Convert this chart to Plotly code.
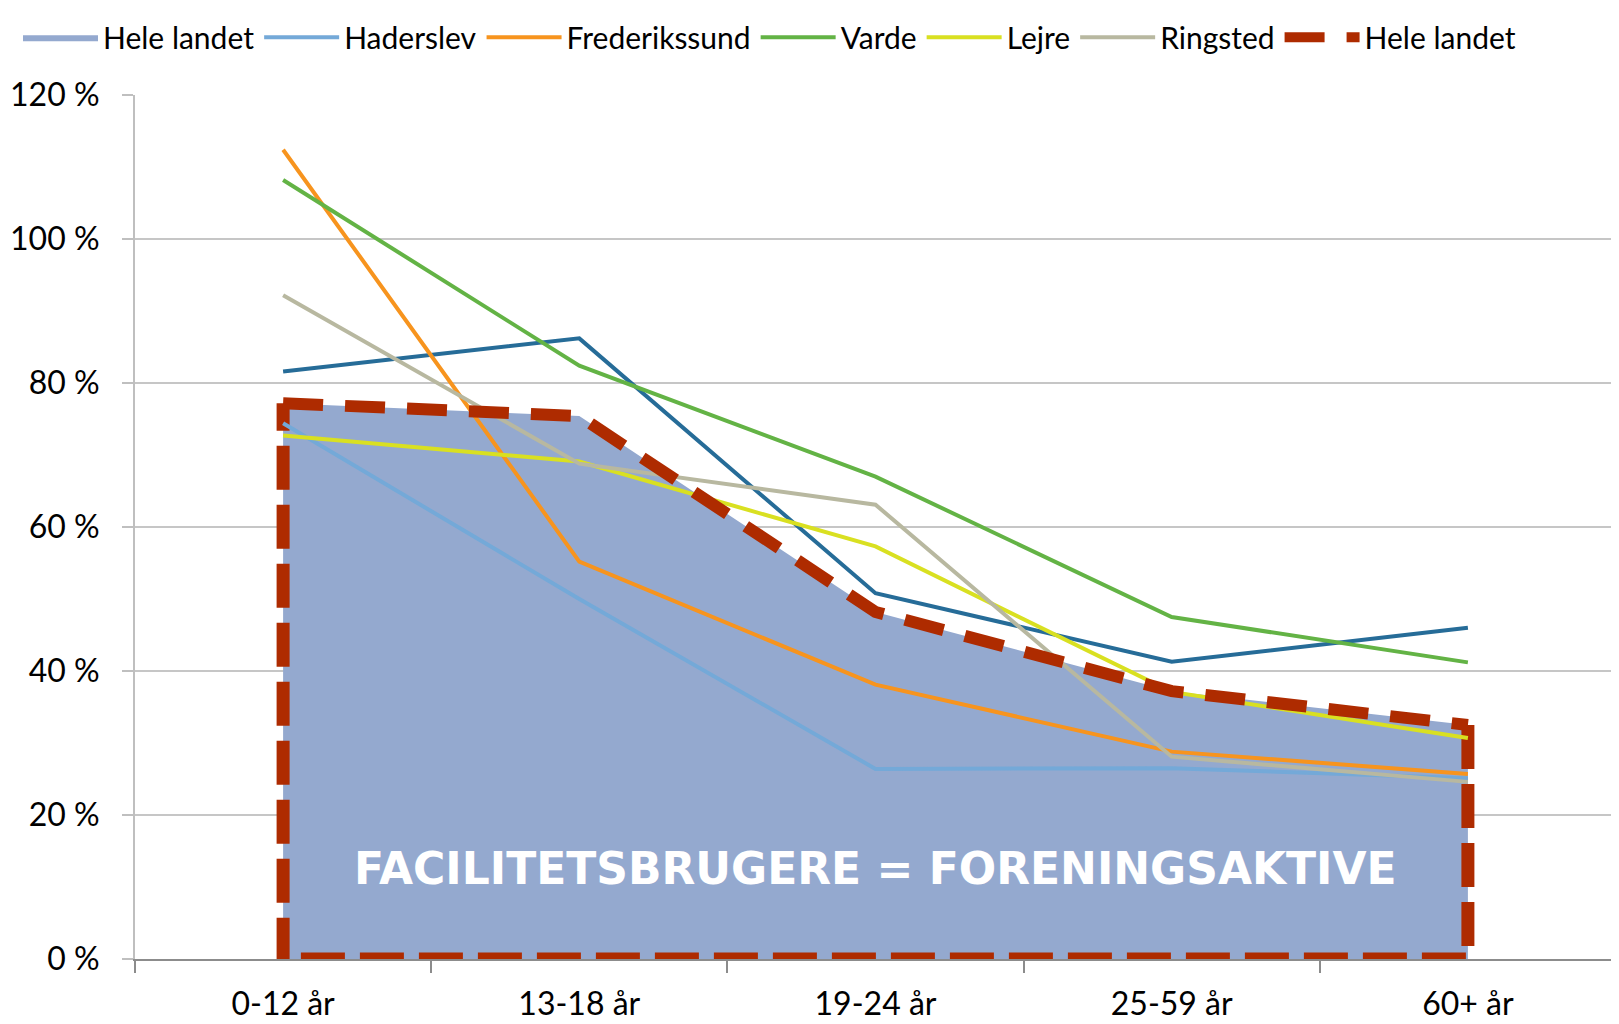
import plotly.graph_objects as go

categories = ["0-12 år", "13-18 år", "19-24 år", "25-59 år", "60+ år"]

hele_landet = [77.2, 75.4, 48.2, 37.2, 32.5]
serie_morkbla = [81.6, 86.2, 50.8, 41.3, 46.0]
haderslev = [74.4, 50.0, 26.4, 26.5, 25.1]
frederikssund = [112.4, 55.2, 38.1, 28.8, 25.7]
varde = [108.2, 82.4, 67.0, 47.5, 41.2]
lejre = [72.7, 69.1, 57.3, 37.1, 30.7]
ringsted = [92.2, 68.8, 63.1, 28.1, 24.6]

y_ticks = [0, 20, 40, 60, 80, 100, 120]
y_ticktext = [f"{v} %" for v in y_ticks]
annotation_text = "FACILITETSBRUGERE = FORENINGSAKTIVE"

RED = "#AE2B00"

fig = go.Figure()

# Area for "Hele landet"
fig.add_trace(go.Scatter(
    x=categories, y=hele_landet, name="Hele landet", mode="lines",
    fill="tozeroy", fillcolor="#94A9CF", legendgroup="area",
    line=dict(color=RED, width=0),
))
# Dashed border of the area: right side, bottom, left side
x_border = [categories[-1], categories[-1], categories[0], categories[0]]
y_border = [hele_landet[-1], 0, 0, hele_landet[0]]
fig.add_trace(go.Scatter(
    x=x_border, y=y_border, mode="lines", showlegend=False, legendgroup="area",
    name="Hele landet", line=dict(color=RED, width=13, dash="44px,15px"),
))

fig.add_trace(go.Scatter(x=categories, y=serie_morkbla, mode="lines", showlegend=False,
                         name="", line=dict(color="#266C98", width=4)))
fig.add_trace(go.Scatter(x=categories, y=haderslev, mode="lines", name="Haderslev",
                         line=dict(color="#74A9D8", width=4)))
fig.add_trace(go.Scatter(x=categories, y=frederikssund, mode="lines", name="Frederikssund",
                         line=dict(color="#F7941E", width=4)))
fig.add_trace(go.Scatter(x=categories, y=varde, mode="lines", name="Varde",
                         line=dict(color="#63B345", width=4)))
fig.add_trace(go.Scatter(x=categories, y=lejre, mode="lines", name="Lejre",
                         line=dict(color="#D9E021", width=4)))
fig.add_trace(go.Scatter(x=categories, y=ringsted, mode="lines", name="Ringsted",
                         line=dict(color="#B8B8A0", width=4)))
fig.add_trace(go.Scatter(x=categories, y=hele_landet, mode="lines", name="Hele landet",
                         line=dict(color=RED, width=12, dash="40px,22px")))

fig.add_annotation(
    x=categories[2], y=12.6, xref="x", yref="y", text=annotation_text,
    showarrow=False,
    font=dict(family="DejaVu Sans", size=44, color="white", weight="bold"),
)

fig.update_layout(
    width=1611, height=1016,
    margin=dict(l=127, r=3, t=87, b=65, autoexpand=False),
    paper_bgcolor="white", plot_bgcolor="white",
    font=dict(family="Lato", size=32, color="black"),
    showlegend=True,
    legend=dict(
        orientation="h", x=-0.079, xanchor="left", y=1.097, yanchor="top",
        font=dict(family="Lato", size=30, color="black"),
        itemwidth=75, bgcolor="rgba(0,0,0,0)",
    ),
    xaxis=dict(
        type="category", categoryorder="array", categoryarray=categories,
        range=[-0.5, 4.5], showgrid=False, zeroline=False, automargin=False,
        showline=True, linecolor="#8C8C8C", linewidth=2,
        ticks="outside", tickson="boundaries", ticklen=12, tickwidth=2, tickcolor="#8C8C8C",
        ticklabelstandoff=16,
        tickfont=dict(family="Lato", size=32, color="black"),
    ),
    yaxis=dict(
        range=[0, 120], tickvals=y_ticks, ticktext=y_ticktext, automargin=False,
        showgrid=True, gridcolor="#C6C6C6", gridwidth=2, zeroline=False,
        showline=True, linecolor="#BFBFBF", linewidth=2,
        ticks="outside", ticklen=11, tickwidth=2, tickcolor="#BFBFBF",
        ticklabelstandoff=16,
        tickfont=dict(family="Lato", size=32, color="black"),
    ),
)

fig.write_html("out.html")
